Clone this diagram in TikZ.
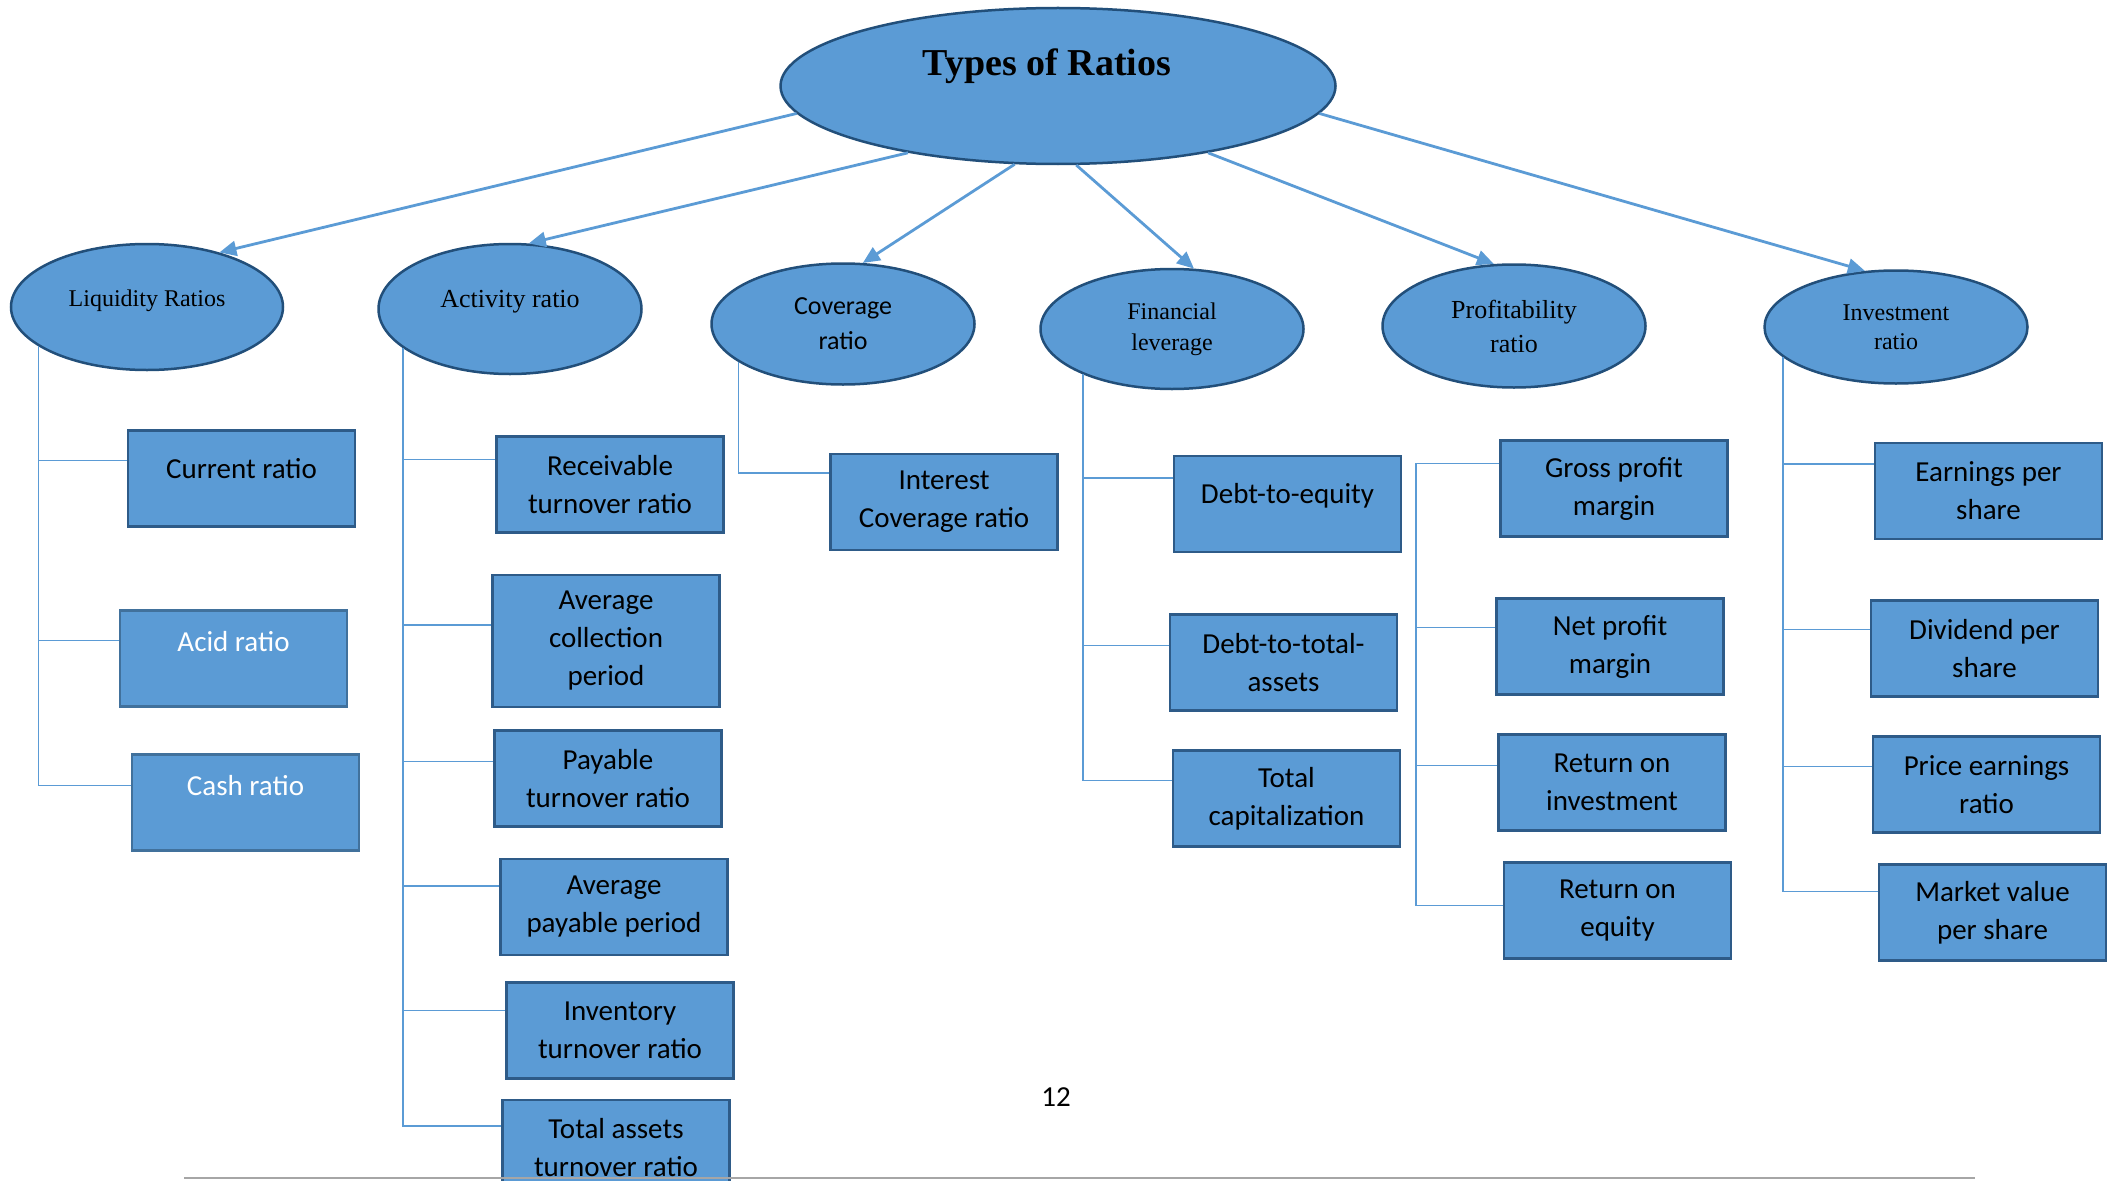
\documentclass[tikz,border=0pt]{standalone}
\usepackage{fontspec}
\setmainfont{Liberation Serif}
\newfontfamily\calibri{Carlito}
\usepackage{tikz}
\usetikzlibrary{shapes.geometric, arrows.meta}
\definecolor{ratioFill}{HTML}{5B9BD5}
\definecolor{ratioEdge}{HTML}{2E5B88}
\definecolor{ratioRim}{HTML}{224F7A}
\definecolor{softEdge}{HTML}{41719C}
\definecolor{linkBlue}{HTML}{5B9BD5}

\tikzset{
  group/.style={ellipse, draw=ratioRim, fill=ratioFill, line width=2.5pt,
    minimum width=263pt, align=center, inner sep=2pt,
    font=\fontsize{24}{31}\selectfont},
  ratio/.style={draw=ratioEdge, fill=ratioFill, line width=2.5pt,
    minimum width=227pt, minimum height=96pt, align=center, inner sep=2pt,
    font=\calibri\fontsize{29}{38}\selectfont},
  lifted/.style={text depth=#1},
  feed/.style={->, linkBlue, line width=2.8pt},
  branch/.style={linkBlue, line width=1.6pt},
}

\begin{document}
\begin{tikzpicture}[x=1pt, y=-1pt, >={Triangle[length=17pt, width=15pt]}]
\useasboundingbox (0,0) rectangle (2111,1180);
\clip (0,0) rectangle (2111,1180);
% ---------- the root and its six groups ----------
\node[group, minimum width=555pt, minimum height=156pt,
  font=\bfseries\fontsize{38}{44}\selectfont, lifted=48pt] (types) at (1058,86) {\hspace*{-22pt}Types of Ratios};
\node[group, minimum width=272pt, minimum height=126pt, lifted=18pt] (liq) at (147,307) {Liquidity Ratios};
\node[group, minimum height=130pt, lifted=20pt, font=\fontsize{26}{33}\selectfont] (act) at (510,309) {Activity ratio};
\node[group, minimum height=121pt, font=\calibri\fontsize{26}{35}\selectfont] (cov) at (843,324) {Coverage\\ratio};
\node[group, minimum height=120pt] (fin) at (1172,329) {Financial\\leverage};
\node[group, minimum height=123pt, font=\fontsize{26}{34}\selectfont] (prof) at (1514,326) {Profitability\\ratio};
\node[group, minimum height=113pt, font=\fontsize{24}{29}\selectfont] (inv) at (1896,327) {Investment\\ratio};

% root -> groups
\foreach \t/\a/\b in {liq/186/37, act/204/74, cov/241/72, fin/283/70, prof/336/108, inv/354/119}
  \draw[feed] (types.\a) -- (\t.\b);

% ---------- liquidity ----------
\node[ratio, lifted=20pt] (curr) at (241.5,478.5) {Current ratio};
\node[ratio, draw=softEdge, text=white, lifted=34pt] (acid) at (233.5,658.5) {Acid ratio};
\node[ratio, draw=softEdge, text=white, lifted=34pt] (cash) at (245.5,802.5) {Cash ratio};
\foreach \b/\s in {curr/18pt, acid/18pt, cash/17pt}
  \draw[branch] (liq.200) |- ([yshift=\s]\b.west);

% ---------- activity ----------
\node[ratio] (recv) at (610,484.5) {Receivable\\turnover ratio};
\node[ratio, minimum height=132pt] (coll) at (606,641) {Average\\collection\\period};
\node[ratio] (pay) at (608,778.5) {Payable\\turnover ratio};
\node[ratio] (payper) at (614,907) {Average\\payable period};
\node[ratio] (invt) at (620,1030.5) {Inventory\\turnover ratio};
\node[ratio] (tassets) at (616,1148) {Total assets\\turnover ratio};
\foreach \b/\s in {recv/25pt, coll/16pt, pay/17pt, payper/21pt, invt/20pt, tassets/22pt}
  \draw[branch] (act.200) |- ([yshift=\s]\b.west);

% ---------- coverage ----------
\node[ratio] (intcov) at (944,502) {Interest\\Coverage ratio};
\draw[branch] (cov.200) |- ([yshift=29pt]intcov.west);

% ---------- financial leverage ----------
\node[ratio, lifted=22pt] (dte) at (1287.5,504) {Debt-to-equity};
\node[ratio] (dta) at (1283.5,662.5) {Debt-to-total-\\assets};
\node[ratio] (tcap) at (1286.5,798.5) {Total\\capitalization};
\foreach \b/\s in {dte/26pt, dta/17pt, tcap/18pt}
  \draw[branch] (fin.207) |- ([yshift=\s]\b.west);

% ---------- profitability ----------
\node[ratio] (gpm) at (1614,488.5) {Gross profit\\margin};
\node[ratio] (npm) at (1610,646.5) {Net profit\\margin};
\node[ratio] (roi) at (1612,782.5) {Return on\\investment};
\node[ratio] (roe) at (1617.5,910.5) {Return on\\equity};
\coordinate (pcorner) at (1416,463);
\foreach \b/\s in {gpm/25pt, npm/19pt, roi/17pt, roe/5pt}
  \draw[branch] (pcorner) |- ([yshift=\s]\b.west);

% ---------- investment ----------
\node[ratio] (eps) at (1988.5,491) {Earnings per\\share};
\node[ratio] (dps) at (1984.5,648.5) {Dividend per\\share};
\node[ratio] (pe) at (1986.5,784.5) {Price earnings\\ratio};
\node[ratio] (mvps) at (1992.5,912.5) {Market value\\per share};
\foreach \b/\s in {eps/27pt, dps/19pt, pe/18pt, mvps/21pt}
  \draw[branch] (inv.195) |- ([yshift=\s]\b.west);

% page number and foot rule
\node[font=\calibri\fontsize{29}{34}\selectfont] (pagenum) at (1056,1097) {12};
\draw[black!35, line width=2.5pt] (184,1178) -- (1975,1178);
\end{tikzpicture}
\end{document}
